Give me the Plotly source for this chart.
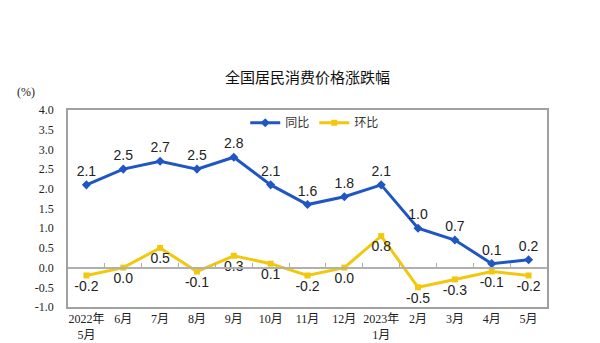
import plotly.graph_objects as go

categories = ["2022年<br>5月", "6月", "7月", "8月", "9月", "10月", "11月", "12月",
              "2023年<br>1月", "2月", "3月", "4月", "5月"]
yoy = [2.1, 2.5, 2.7, 2.5, 2.8, 2.1, 1.6, 1.8, 2.1, 1.0, 0.7, 0.1, 0.2]
mom = [-0.2, 0.0, 0.5, -0.1, 0.3, 0.1, -0.2, 0.0, 0.8, -0.5, -0.3, -0.1, -0.2]
y_ticks = [4.0, 3.5, 3.0, 2.5, 2.0, 1.5, 1.0, 0.5, 0.0, -0.5, -1.0]

x = list(range(len(categories)))
boundaries = [i + 0.5 for i in x[:-1]]
blue = "#1f56c4"
yellow = "#f2c80f"
lab_font = dict(family="Liberation Sans, Arial, sans-serif", size=14, color="#222")

fig = go.Figure()
# invisible trace carrying the zero-line tick axis (drawn underneath)
fig.add_trace(go.Scatter(x=x, y=mom, xaxis="x", mode="none", showlegend=False,
                         hoverinfo="skip"))
fig.add_trace(go.Scatter(
    x=x, y=yoy, name="同比", mode="lines+markers+text", xaxis="x2",
    line=dict(color=blue, width=3),
    marker=dict(symbol="diamond", size=7, color=blue),
    text=[f"{v:.1f}" for v in yoy], textposition="top center",
    textfont=lab_font, cliponaxis=False))
fig.add_trace(go.Scatter(
    x=x, y=mom, name="环比", mode="lines+markers+text", xaxis="x2",
    line=dict(color=yellow, width=3),
    marker=dict(symbol="square", size=6, color=yellow),
    text=[f"{v:.1f}" for v in mom], textposition="bottom center",
    textfont=lab_font, cliponaxis=False))

serif = "Liberation Serif, Noto Sans CJK SC, serif"
yr = [-1.0, 4.0]
xr = [-0.5, len(categories) - 0.5]
fig.update_layout(
    width=600, height=343,
    margin=dict(l=68, r=53, t=110, b=36),
    plot_bgcolor="white", paper_bgcolor="white",
    title=dict(text="全国居民消费价格涨跌幅", x=(68 + 547) / 2 / 600, xanchor="center",
               y=1 - 78 / 343, yanchor="middle", yref="container",
               font=dict(family="Noto Sans CJK SC", size=15, color="#111")),
    showlegend=True,
    legend=dict(orientation="h", x=0.37, y=0.935, xanchor="left", yanchor="middle",
                font=dict(family="Noto Sans CJK SC", size=12, color="#333"),
                bgcolor="rgba(0,0,0,0)", itemwidth=30),
    xaxis=dict(range=xr, anchor="free",
               position=(0 - yr[0]) / (yr[1] - yr[0]), side="bottom",
               tickmode="array", tickvals=boundaries, showticklabels=False,
               ticks="inside", ticklen=4, tickcolor="#b0b0b0", tickwidth=1,
               showline=True, linecolor="#b0b0b0", linewidth=1.5,
               showgrid=False, zeroline=False, automargin=False),
    xaxis2=dict(range=xr, overlaying="x", anchor="y", side="bottom",
                tickmode="array", tickvals=x,
                ticktext=categories, showgrid=False, zeroline=False, automargin=False,
                showline=True, linecolor="#a0a0a0", linewidth=1.5, mirror=True,
                ticks="", ticklabelstandoff=0,
                tickfont=dict(family=serif, size=12, color="#222")),
    yaxis=dict(range=yr, tickmode="array", tickvals=y_ticks, automargin=False,
               ticktext=[f"{v:.1f}" for v in y_ticks], showgrid=False, zeroline=False,
               showline=True, linecolor="#a0a0a0", linewidth=1.5, mirror=True,
               ticks="", ticklabelstandoff=10,
               tickfont=dict(family=serif, size=12, color="#222")),
)
fig.add_annotation(text="(%)", xref="paper", yref="paper", x=-0.065, y=(307 - 92) / 197,
                   xanchor="right", yanchor="middle", showarrow=False,
                   font=dict(family=serif, size=12, color="#222"))

fig.write_html("out.html")
